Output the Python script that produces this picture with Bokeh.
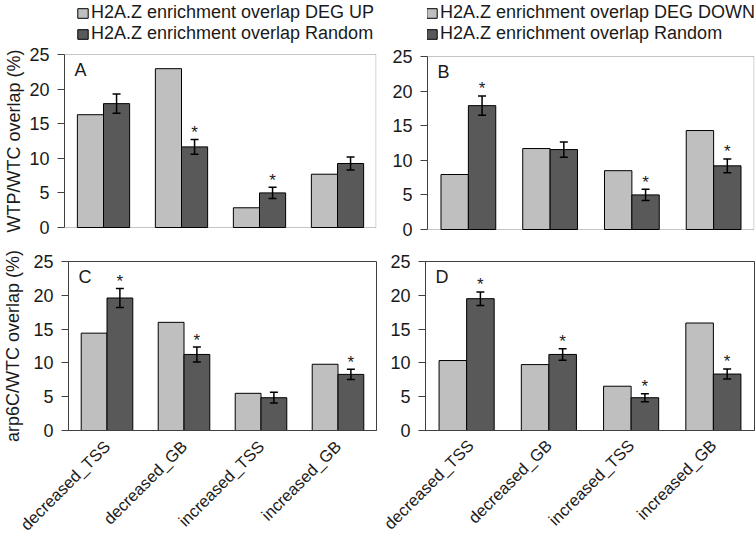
import math
from bokeh.plotting import figure
from bokeh.models import (ColumnDataSource, FactorRange, Range1d, Whisker, Legend,
                          LegendItem, Label, FixedTicker, BoxAnnotation, Title)
from bokeh.transform import dodge
from bokeh.layouts import column, row
from bokeh.embed import file_html
from bokeh.resources import INLINE
from bokeh.core.properties import value

# ---------------- data ----------------
categories = ["decreased_TSS", "decreased_GB", "increased_TSS", "increased_GB"]

a_deg = [16.3, 22.95, 2.85, 7.7]
a_rand = [17.9, 11.65, 5.0, 9.25]
a_err = [1.4, 1.05, 0.8, 0.95]
a_sig = [False, True, True, False]

b_deg = [7.95, 11.7, 8.5, 14.3]
b_rand = [17.9, 11.55, 5.0, 9.2]
b_err = [1.4, 1.1, 0.8, 1.0]
b_sig = [True, False, True, True]

c_deg = [14.4, 16.0, 5.5, 9.8]
c_rand = [19.6, 11.25, 4.85, 8.3]
c_err = [1.4, 1.1, 0.8, 0.75]
c_sig = [True, True, False, True]

d_deg = [10.35, 9.75, 6.55, 15.9]
d_rand = [19.5, 11.25, 4.85, 8.35]
d_err = [1.0, 0.85, 0.6, 0.75]
d_sig = [True, True, True, True]

y_ticks = [0, 5, 10, 15, 20, 25]
Y_MAX = 25
legend_up = ["H2A.Z enrichment overlap DEG UP", "H2A.Z enrichment overlap Random"]
legend_down = ["H2A.Z enrichment overlap DEG DOWN", "H2A.Z enrichment overlap Random"]
title_a = "WTP/WTC overlap (%)"
title_c = "arp6C/WTC overlap (%)"

# ---------------- style ----------------
FONT = "Liberation Sans"
FS = "18px"
LIGHT = "#BFBFBF"
DARK = "#595959"
TXT = "#1a1a1a"
AXC = "#404040"
BW = 0.335


def base(letter, deg, rand, err, sig, p):
    p.xgrid.visible = False
    p.ygrid.visible = False
    p.background_fill_color = "white"
    p.border_fill_color = "white"

    src = ColumnDataSource(dict(
        cat=categories, deg=deg, rand=rand,
        upper=[r + e for r, e in zip(rand, err)],
        lower=[r - e for r, e in zip(rand, err)],
    ))
    r1 = p.vbar(x=dodge("cat", -BW / 2, range=p.x_range), top="deg", width=BW,
                source=src, fill_color=LIGHT, line_color="black", line_width=1)
    r2 = p.vbar(x=dodge("cat", BW / 2, range=p.x_range), top="rand", width=BW,
                source=src, fill_color=DARK, line_color="black", line_width=1)

    w = Whisker(base=dodge("cat", BW / 2, range=p.x_range), upper="upper",
                lower="lower", source=src, dimension="height",
                line_color="black", line_width=1.5, level="overlay")
    w.upper_head.size = 8
    w.lower_head.size = 8
    w.upper_head.line_width = 1.5
    w.lower_head.line_width = 1.5
    p.add_layout(w)

    star_src = ColumnDataSource(dict(
        cat=[c for c, s in zip(categories, sig) if s],
        y=[r + e for r, e, s in zip(rand, err, sig) if s],
        t=["*" for s in sig if s],
    ))
    p.text(x=dodge("cat", BW / 2, range=p.x_range), y="y", text="t", source=star_src,
           text_align="center", text_baseline="alphabetic", y_offset=-7,
           text_font=value(FONT), text_font_size="17px", text_color=TXT)

    p.add_layout(Label(x=0, y=Y_MAX, x_offset=10, y_offset=-5, text=letter,
                       text_baseline="top", text_align="left",
                       text_font=FONT, text_font_size="18px", text_color=TXT))

    ya = p.yaxis[0]
    ya.ticker = FixedTicker(ticks=y_ticks)
    ya.bounds = (0, Y_MAX)
    ya.minor_tick_line_color = None
    ya.major_tick_in = 0
    ya.major_tick_out = 7
    ya.major_tick_line_color = AXC
    ya.axis_line_color = AXC
    ya.major_label_standoff = 8
    ya.major_label_text_font = FONT
    ya.major_label_text_font_size = FS
    ya.major_label_text_color = TXT
    return r1, r2


def top_panel(letter, deg, rand, err, sig, width, height, left, right, ptop, pbot,
              legend_labels, legend_x, ytitle=None, title_offset=0):
    # frame spans the whole canvas height so that the legend sits inside it
    ppu = (pbot - ptop) / Y_MAX
    y0 = -(height - pbot) / ppu
    y1 = Y_MAX + ptop / ppu
    p = figure(x_range=FactorRange(*categories), y_range=Range1d(y0, y1),
               width=width, height=height, output_backend="svg",
               toolbar_location=None, min_border_left=left, min_border_right=right,
               min_border_top=0, min_border_bottom=0)
    p.outline_line_color = None
    p.xaxis.visible = False
    frame_w = width - left - right
    eps = 0.5 / (frame_w / len(categories))
    p.add_layout(BoxAnnotation(bottom=0, top=Y_MAX, left=0, right=len(categories) - eps,
                               fill_color=None, fill_alpha=0, line_color=AXC,
                               line_width=1, level="underlay"))
    r1, r2 = base(letter, deg, rand, err, sig, p)

    if ytitle:
        p.add_layout(Title(text=ytitle, align="left", offset=title_offset,
                           vertical_align="middle", standoff=4,
                           text_font=FONT, text_font_size=FS,
                           text_font_style="normal", text_color=TXT), "left")

    leg_h = 42
    leg = Legend(items=[LegendItem(label=legend_labels[0], renderers=[r1]),
                        LegendItem(label=legend_labels[1], renderers=[r2])],
                 location=(legend_x, height - 2 - leg_h), orientation="vertical",
                 background_fill_alpha=0, border_line_color=None,
                 padding=0, margin=0, spacing=0,
                 glyph_width=13, glyph_height=12, label_height=18,
                 label_standoff=2, label_text_font=FONT,
                 label_text_font_size=FS, label_text_color=TXT)
    p.add_layout(leg)
    return p


def bottom_panel(letter, deg, rand, err, sig, width, height, left, right, top, bottom,
                 ytitle=None, x_standoff=12):
    p = figure(x_range=FactorRange(*categories), y_range=Range1d(0, Y_MAX),
               width=width, height=height, output_backend="svg",
               toolbar_location=None, min_border_left=left, min_border_right=right,
               min_border_top=top, min_border_bottom=bottom)
    p.outline_line_color = AXC
    p.outline_line_width = 1
    base(letter, deg, rand, err, sig, p)
    xa = p.xaxis[0]
    xa.major_label_orientation = math.pi / 4
    xa.major_tick_line_color = None
    xa.major_tick_out = 0
    xa.major_tick_in = 0
    xa.axis_line_color = AXC
    xa.major_label_standoff = x_standoff
    xa.major_label_text_font = FONT
    xa.major_label_text_font_size = "16.5px"
    xa.major_label_text_color = TXT
    if ytitle:
        ya = p.yaxis[0]
        ya.axis_label = ytitle
        ya.axis_label_text_font = FONT
        ya.axis_label_text_font_size = FS
        ya.axis_label_text_font_style = "normal"
        ya.axis_label_text_color = TXT
        ya.axis_label_standoff = 7
    return p


pa = top_panel("A", a_deg, a_rand, a_err, a_sig, 380, 240, 62, 4, 54, 227,
               legend_up, 12, ytitle=title_a, title_offset=8)
pb = top_panel("B", b_deg, b_rand, b_err, b_sig, 375, 240, 47, 1, 56, 229,
               legend_down, -2)
pc = bottom_panel("C", c_deg, c_rand, c_err, c_sig, 380, 304, 62, 4, 19, 114,
                  ytitle=title_c, x_standoff=13)
pd = bottom_panel("D", d_deg, d_rand, d_err, d_sig, 375, 304, 45, 1, 21, 112,
                  x_standoff=12)

layout = column(row(pa, pb), row(pc, pd))
open("out.html", "w").write(file_html(layout, INLINE))
